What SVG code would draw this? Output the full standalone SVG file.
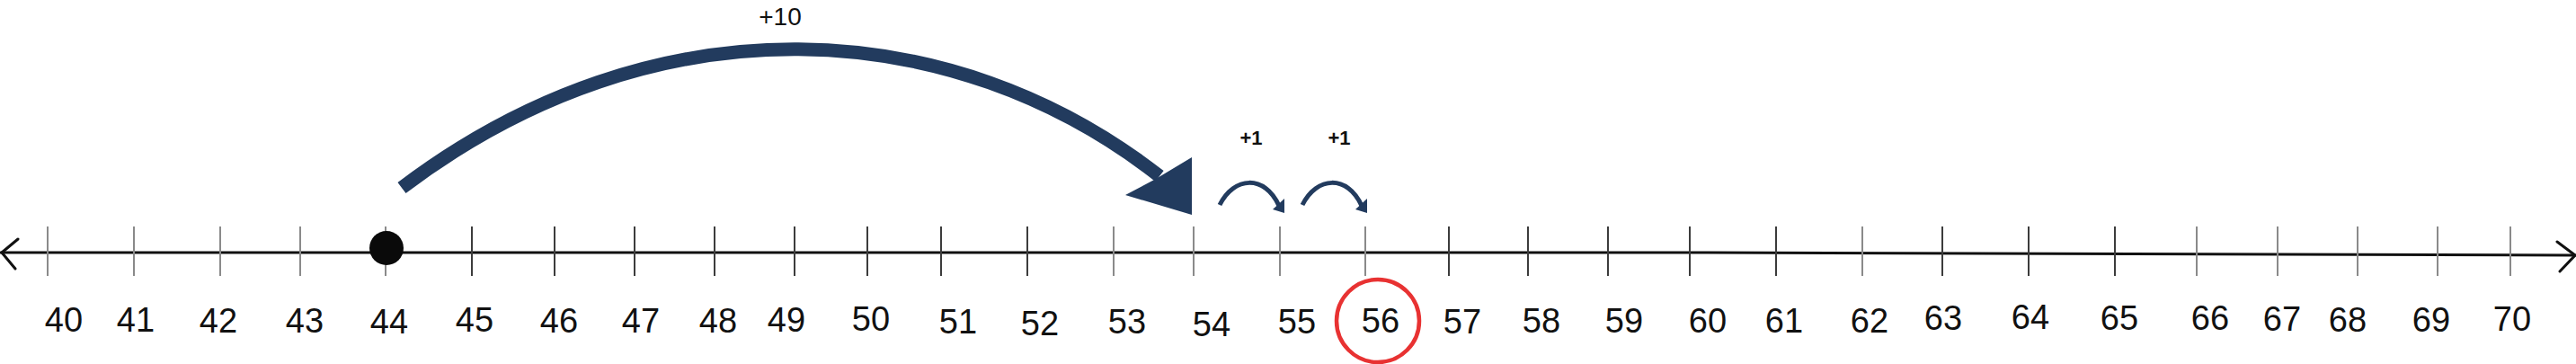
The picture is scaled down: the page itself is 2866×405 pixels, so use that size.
<svg xmlns="http://www.w3.org/2000/svg" width="2866" height="405" viewBox="0 0 2866 405">
<style>
.axis{fill:none;stroke:#111;stroke-width:3;stroke-linecap:round;stroke-linejoin:round}
.tk{stroke:#8a8a8a;stroke-width:2}
.tkd{stroke:#3c3c3c;stroke-width:2}
.lbl{font-family:"Liberation Sans",Arial,sans-serif;font-size:38px;fill:#111;text-anchor:middle}
.jump{font-family:"Liberation Sans",Arial,sans-serif;fill:#111;text-anchor:middle}
.arc{fill:none;stroke:#223b5e;stroke-linecap:butt}
.head{fill:#223b5e}
</style>
<rect width="2866" height="405" fill="#fff"/>
<g id="axis">
<polyline class="axis" points="1,281 1900,281 2865,284"/>
<polyline class="axis" points="20,266 2,281 17,299"/>
<polyline class="axis" points="2845,269 2865,284 2848,302"/>
</g>
<g id="ticks">
<line class="tk" x1="53" y1="252" x2="53" y2="307"/>
<line class="tk" x1="149" y1="252" x2="149" y2="307"/>
<line class="tk" x1="245" y1="252" x2="245" y2="307"/>
<line class="tk" x1="334" y1="252" x2="334" y2="307"/>
<line class="tk" x1="429" y1="252" x2="429" y2="307"/>
<line class="tkd" x1="525" y1="252" x2="525" y2="307"/>
<line class="tkd" x1="617" y1="252" x2="617" y2="307"/>
<line class="tkd" x1="706" y1="252" x2="706" y2="307"/>
<line class="tkd" x1="795" y1="252" x2="795" y2="307"/>
<line class="tkd" x1="884" y1="252" x2="884" y2="307"/>
<line class="tkd" x1="965" y1="252" x2="965" y2="307"/>
<line class="tkd" x1="1047" y1="252" x2="1047" y2="307"/>
<line class="tkd" x1="1143" y1="252" x2="1143" y2="307"/>
<line class="tk" x1="1239" y1="252" x2="1239" y2="307"/>
<line class="tk" x1="1328" y1="252" x2="1328" y2="307"/>
<line class="tk" x1="1424" y1="252" x2="1424" y2="307"/>
<line class="tk" x1="1519" y1="252" x2="1519" y2="307"/>
<line class="tkd" x1="1612" y1="252" x2="1612" y2="307"/>
<line class="tkd" x1="1700" y1="252" x2="1700" y2="307"/>
<line class="tkd" x1="1789" y1="252" x2="1789" y2="307"/>
<line class="tkd" x1="1880" y1="252" x2="1880" y2="307"/>
<line class="tkd" x1="1976" y1="252" x2="1976" y2="307"/>
<line class="tk" x1="2072" y1="252" x2="2072" y2="307"/>
<line class="tkd" x1="2161" y1="252" x2="2161" y2="307"/>
<line class="tkd" x1="2257" y1="252" x2="2257" y2="307"/>
<line class="tkd" x1="2353" y1="252" x2="2353" y2="307"/>
<line class="tk" x1="2444" y1="252" x2="2444" y2="307"/>
<line class="tk" x1="2534" y1="252" x2="2534" y2="307"/>
<line class="tk" x1="2623" y1="252" x2="2623" y2="307"/>
<line class="tk" x1="2712" y1="252" x2="2712" y2="307"/>
<line class="tk" x1="2793" y1="252" x2="2793" y2="307"/>
</g>
<g id="labels">
<text class="lbl" x="71" y="369">40</text>
<text class="lbl" x="151" y="369">41</text>
<text class="lbl" x="243" y="370">42</text>
<text class="lbl" x="339" y="370">43</text>
<text class="lbl" x="433" y="371">44</text>
<text class="lbl" x="528" y="369">45</text>
<text class="lbl" x="622" y="370">46</text>
<text class="lbl" x="713" y="370">47</text>
<text class="lbl" x="799" y="370">48</text>
<text class="lbl" x="875" y="369">49</text>
<text class="lbl" x="969" y="368">50</text>
<text class="lbl" x="1066" y="371">51</text>
<text class="lbl" x="1157" y="373">52</text>
<text class="lbl" x="1254" y="371">53</text>
<text class="lbl" x="1348" y="374">54</text>
<text class="lbl" x="1443" y="371">55</text>
<text class="lbl" x="1536" y="370">56</text>
<text class="lbl" x="1627" y="371">57</text>
<text class="lbl" x="1715" y="370">58</text>
<text class="lbl" x="1807" y="370">59</text>
<text class="lbl" x="1900" y="370">60</text>
<text class="lbl" x="1985" y="370">61</text>
<text class="lbl" x="2080" y="370">62</text>
<text class="lbl" x="2162" y="367">63</text>
<text class="lbl" x="2259" y="366">64</text>
<text class="lbl" x="2358" y="367">65</text>
<text class="lbl" x="2459" y="367">66</text>
<text class="lbl" x="2539" y="368">67</text>
<text class="lbl" x="2612" y="369">68</text>
<text class="lbl" x="2705" y="369">69</text>
<text class="lbl" x="2795" y="368">70</text>
</g>
<g id="start-dot">
<circle cx="430" cy="276" r="19" fill="#0a0a0a"/>
</g>
<g id="answer-circle">
<circle cx="1533" cy="357" r="46" fill="none" stroke="#e83232" stroke-width="4.5"/>
</g>
<g id="connectors">
<path class="arc" stroke-width="15" d="M447,209 C730,-5 1060,16 1290,196"/>
<polygon class="head" points="1326,175 1326,239 1252,217 1286,199"/>
<path class="arc" stroke-width="5" d="M1357,228 C1373,196 1407,194 1423,229"/>
<polygon class="head" points="1429,221 1429,237 1416,233"/>
<path class="arc" stroke-width="5" d="M1449,228 C1465,196 1499,194 1515,229"/>
<polygon class="head" points="1521,221 1521,237 1508,233"/>
</g>
<g id="jump-labels">
<text class="jump" x="868" y="28" font-size="28">+10</text>
<text class="jump" x="1392" y="161" font-size="22" font-weight="bold">+1</text>
<text class="jump" x="1490" y="161" font-size="22" font-weight="bold">+1</text>
</g>
</svg>
